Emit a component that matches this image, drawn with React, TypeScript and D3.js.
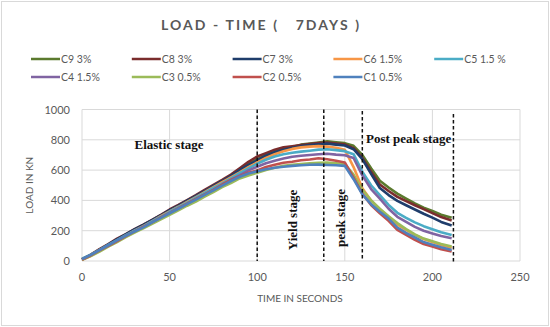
import * as d3 from 'd3'
import * as React from 'react'

//------------------------------data------------------------------
const TIME = [
  0, 5, 10, 15, 20, 25, 30, 35, 40, 45, 50, 55, 60, 65, 70, 75, 80, 85, 90, 95, 100,
  105, 110, 115, 120, 125, 130, 135, 140, 145, 150, 155, 160, 165, 170, 175, 180,
  185, 190, 195, 200, 205, 211
]
const C9 = [
  12, 40, 75, 105, 140, 172, 205, 232, 268, 300, 335, 362, 398, 428, 462, 495, 528,
  560, 598, 640, 672, 700, 722, 742, 752, 768, 775, 782, 790, 784, 778, 760, 700,
  612, 530, 485, 445, 412, 380, 352, 330, 305, 285
]
const C8 = [
  10, 42, 78, 112, 148, 178, 210, 240, 272, 305, 340, 370, 402, 435, 470, 502, 535,
  570, 612, 655, 690, 712, 735, 750, 758, 765, 772, 778, 782, 776, 770, 745, 680,
  590, 505, 462, 423, 395, 368, 342, 316, 290, 268
]
const C7 = [
  10, 38, 72, 108, 142, 175, 208, 238, 270, 302, 336, 365, 398, 430, 462, 496, 528,
  562, 600, 635, 665, 695, 718, 735, 748, 758, 765, 770, 775, 768, 762, 738, 672,
  575, 482, 435, 397, 368, 340, 312, 286, 258, 235
]
const C6 = [
  8, 35, 70, 102, 135, 168, 200, 230, 262, 296, 328, 358, 390, 422, 455, 488, 520,
  552, 585, 620, 650, 680, 705, 725, 740, 750, 755, 758, 755, 748, 735, 620, 480,
  400, 340, 290, 240, 205, 172, 145, 125, 105, 88
]
const C5 = [
  15, 42, 74, 106, 138, 170, 200, 228, 262, 292, 325, 355, 385, 418, 450, 482, 512,
  545, 580, 612, 642, 668, 690, 705, 715, 722, 728, 735, 738, 732, 725, 705, 590,
  500, 435, 370, 318, 285, 255, 230, 210, 190, 172
]
const C4 = [
  10, 36, 68, 100, 132, 162, 192, 222, 252, 285, 315, 345, 376, 405, 438, 470, 500,
  535, 565, 598, 622, 645, 662, 676, 688, 695, 700, 705, 708, 702, 698, 680, 565,
  475, 412, 345, 292, 258, 225, 200, 182, 165, 150
]
const C3 = [
  8, 32, 62, 95, 125, 158, 188, 215, 245, 275, 305, 335, 365, 392, 425, 455, 488,
  515, 545, 565, 582, 600, 615, 628, 635, 640, 645, 648, 650, 645, 640, 570, 470,
  400, 345, 295, 250, 210, 175, 148, 130, 112, 95
]
const C2 = [
  10, 38, 70, 100, 132, 165, 195, 225, 255, 288, 318, 348, 378, 410, 440, 470, 505,
  535, 560, 582, 598, 620, 635, 648, 655, 665, 670, 678, 672, 662, 650, 550, 445,
  370, 315, 265, 205, 172, 140, 112, 95, 78, 62
]
const C1 = [
  12, 40, 72, 104, 136, 166, 195, 222, 255, 285, 315, 345, 375, 405, 436, 466, 498,
  528, 556, 578, 592, 605, 615, 622, 628, 632, 635, 636, 634, 632, 628, 540, 440,
  375, 325, 280, 220, 185, 155, 125, 108, 90, 72
]
const SERIES_NAMES = ['C9 3%', 'C8 3%', 'C7 3%', 'C6 1.5%', 'C5 1.5 %', 'C4 1.5%', 'C3 0.5%', 'C2 0.5%', 'C1 0.5%']
const SERIES_VALUES = [C9, C8, C7, C6, C5, C4, C3, C2, C1]
const COLORS = ['#5b7a2e', '#7a2c2c', '#1f3d6b', '#f79646', '#4bacc6', '#8064a2', '#9bbb59', '#c0504d', '#4f81bd']
const X_TICKS = [0, 50, 100, 150, 200, 250]
const Y_TICKS = [0, 200, 400, 600, 800, 1000]
// stage boundaries (seconds) and their vertical extent in kN
const STAGE_LINES = [100, 138, 160, 212]
const STAGE_TOP = [1000, 1000, 990, 970]
const STAGE_BOTTOM = [0, 0, 0, -10]

//------------------------------layout------------------------------
const WIDTH = 550
const HEIGHT = 327
const PLOT = { left: 82, right: 520, top: 109.5, bottom: 261 }
const GREY = '#595959'
const SANS = 'Lato, "Open Sans", sans-serif'
const SERIF = '"Liberation Serif", "DejaVu Serif", serif'

//------------------------------Component------------------------------
export default function App() {
  const x = d3.scaleLinear().domain([0, 250]).range([PLOT.left, PLOT.right])
  const y = d3.scaleLinear().domain([0, 1000]).range([PLOT.bottom, PLOT.top])
  const line = d3
    .line<[number, number]>()
    .x(d => x(d[0]))
    .y(d => y(d[1]))

  return (
    <svg
      width={WIDTH}
      height={HEIGHT}
      style={{ position: 'absolute', left: 0, top: 0, background: '#fff' }}
    >
      <rect x={1.5} y={1.5} width={WIDTH - 3} height={HEIGHT - 3} fill="#fff" stroke="#d9d9d9" />
      <text
        x={261}
        y={30}
        textAnchor="middle"
        fill={GREY}
        fontFamily={SANS}
        fontSize={14}
        fontWeight={700}
        letterSpacing={2.1}
        style={{ whiteSpace: 'pre' }}
      >
        {'LOAD - TIME (   7DAYS )'}
      </text>

      {/* legend */}
      {SERIES_NAMES.map((name, i) => {
        const lx = 31 + (i % 5) * 100.8
        const ly = 59 + Math.floor(i / 5) * 18
        return (
          <g key={name}>
            <line x1={lx} x2={lx + 29} y1={ly} y2={ly} stroke={COLORS[i]} strokeWidth={2.5} />
            <text x={lx + 30} y={ly + 3.8} fill={GREY} fontFamily={SANS} fontSize={10.5}>
              {name}
            </text>
          </g>
        )
      })}

      {/* grid */}
      {Y_TICKS.map(t => (
        <line key={'gy' + t} x1={PLOT.left} x2={PLOT.right} y1={y(t)} y2={y(t)} stroke="#d9d9d9" strokeWidth={1} />
      ))}
      {X_TICKS.map(t => (
        <line key={'gx' + t} x1={x(t)} x2={x(t)} y1={PLOT.top} y2={PLOT.bottom} stroke="#d9d9d9" strokeWidth={1} />
      ))}

      {/* tick labels */}
      {Y_TICKS.map(t => (
        <text key={'ty' + t} x={PLOT.left - 12} y={y(t) + 4} textAnchor="end" fill={GREY} fontFamily={SANS} fontSize={11}>
          {t}
        </text>
      ))}
      {X_TICKS.map(t => (
        <text key={'tx' + t} x={x(t)} y={PLOT.bottom + 20} textAnchor="middle" fill={GREY} fontFamily={SANS} fontSize={11}>
          {t}
        </text>
      ))}
      <text x={300} y={302} textAnchor="middle" fill={GREY} fontFamily={SANS} fontSize={10}>
        TIME IN SECONDS
      </text>
      <text
        transform={`translate(33,${(PLOT.top + PLOT.bottom) / 2}) rotate(-90)`}
        textAnchor="middle"
        fill={GREY}
        fontFamily={SANS}
        fontSize={10}
      >
        LOAD IN KN
      </text>

      {/* series */}
      {SERIES_VALUES.map((vals, i) => (
        <path
          key={SERIES_NAMES[i]}
          d={line(TIME.map((t, j) => [t, vals[j]] as [number, number])) || ''}
          fill="none"
          stroke={COLORS[i]}
          strokeWidth={2.6}
          strokeLinejoin="round"
        />
      ))}

      {/* stage boundaries */}
      {STAGE_LINES.map((t, i) => (
        <line
          key={'st' + t}
          x1={x(t)}
          x2={x(t)}
          y1={y(STAGE_TOP[i])}
          y2={y(STAGE_BOTTOM[i])}
          stroke="#111"
          strokeWidth={1.5}
          strokeDasharray="3.5,2.5"
        />
      ))}

      {/* stage labels */}
      <text x={169} y={149} textAnchor="middle" fontFamily={SERIF} fontWeight={700} fontSize={13} fill="#111">
        Elastic stage
      </text>
      <text
        transform={`translate(297,220) rotate(-90)`}
        textAnchor="middle"
        fontFamily={SERIF}
        fontWeight={700}
        fontSize={13}
        fill="#111"
      >
        Yield stage
      </text>
      <text
        transform={`translate(345,218) rotate(-90)`}
        textAnchor="middle"
        fontFamily={SERIF}
        fontWeight={700}
        fontSize={13}
        fill="#111"
      >
        peak stage
      </text>
      <text x={366} y={143} fontFamily={SERIF} fontWeight={700} fontSize={13} fill="#111">
        Post peak stage
      </text>
    </svg>
  )
}
